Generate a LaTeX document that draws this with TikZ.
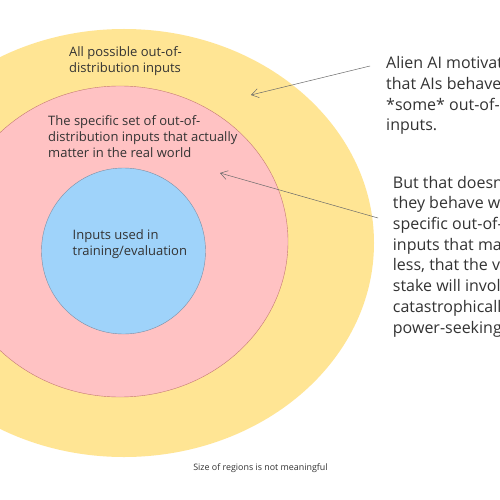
\documentclass[tikz,border=0pt]{standalone}
\usepackage{fontspec}
\setmainfont{Open Sans}
\usetikzlibrary{arrows.meta,shapes.geometric}
\definecolor{yel}{HTML}{FFE594}
\definecolor{pnk}{HTML}{FFC2C3}
\definecolor{blu}{HTML}{9FD3FA}
\definecolor{txt}{HTML}{333333}
\definecolor{arr}{HTML}{6A6A6A}
\definecolor{pnkline}{HTML}{C47A72}
\definecolor{bluline}{HTML}{7C8FA6}
\tikzset{
  region/.style={ellipse, inner sep=0pt},
  lbl/.style={anchor=base west, inner sep=0pt, align=left, text=txt,
    font=\fontsize{13}{15.8}\selectfont},
  note/.style={anchor=base west, inner sep=0pt, align=left, text=txt,
    font=\fontsize{16}{20.7}\selectfont},
  pointer/.style={draw=arr, line width=0.5pt, -{Straight Barb[length=7pt,width=9pt]}}
}
\begin{document}
\begin{tikzpicture}[x=1pt,y=-1pt]
\useasboundingbox (0,0) rectangle (500,500);
\fill[white] (0,0) rectangle (500,500);
\begin{scope}
\clip (0,0) rectangle (500,500);
\node[region, fill=yel, minimum width=500pt, minimum height=428pt] (all) at (124,243) {};
\node[region, fill=pnk, draw=pnkline, line width=0.4pt, minimum width=336pt, minimum height=311pt] (real) at (120,241.5) {};
\node[region, fill=blu, draw=bluline, line width=0.4pt, minimum width=164pt, minimum height=166pt] (train) at (123.5,251) {};

\node[lbl] (allt) at (69,72.5) {All possible out-of-\\distribution inputs};
\node[lbl] (realt) at (48,157) {The specific set of out-of-\\distribution inputs that actually\\matter in the real world};
\node[lbl] (traint) at (72.5,255) {Inputs used in\\training/evaluation};

\node[note] (n1) at (386,131) {Alien AI motivations suggest\\that AIs behave badly on\\*some* out-of-distribution\\inputs.};
\node[note] (n2) at (392.7,333) {But that doesn't mean\\they behave well on the\\specific out-of-distribution\\inputs that matter -- much\\less, that the very inputs at\\stake will involve\\catastrophically\\power-seeking.};

\coordinate (p1s) at (370,66);
\coordinate (p1e) at (251,95);
\coordinate (p2s) at (378,218);
\coordinate (p2e) at (220,173);
\draw[pointer] (p1s) -- (p1e);
\draw[pointer] (p2s) -- (p2e);

\node[anchor=base, inner sep=0pt, text=txt, font=\fontsize{8.9}{10}\selectfont] (foot) at (260.5,470.5) {Size of regions is not meaningful};
\end{scope}
\end{tikzpicture}
\end{document}
